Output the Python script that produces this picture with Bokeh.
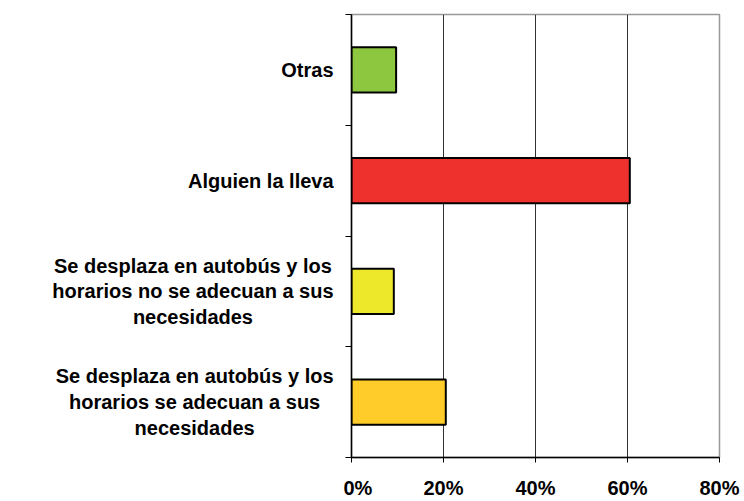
from bokeh.plotting import figure
from bokeh.layouts import row
from bokeh.models import Range1d, FixedTicker, ColumnDataSource
from bokeh.core.properties import value
from bokeh.embed import file_html
from bokeh.resources import INLINE

categories = [
    "Otras",
    "Alguien la lleva",
    "Se desplaza en autobús y los\nhorarios no se adecuan a sus\nnecesidades",
    "Se desplaza en autobús y los\nhorarios se adecuan a sus\nnecesidades",
]
values = [9.7, 60.5, 9.2, 20.5]
colors = ["#8DC63F", "#EE312C", "#EEE82A", "#FFCC29"]
x_ticks = [0, 20, 40, 60, 80]
x_tick_labels = {t: f"{t}%" for t in x_ticks}

n = len(categories)
ypos = [n - i - 0.5 for i in range(n)]
src = ColumnDataSource(dict(cat=categories, val=values, color=colors, y=ypos,
                            zero=[0] * n, lx=[0.971] * n))

H = 501
TOP = 14
BOT = 42
yr = Range1d(0, n)

left = figure(width=343, height=H, x_range=Range1d(0, 1), y_range=yr,
              output_backend="svg", toolbar_location=None,
              x_axis_location=None, y_axis_location=None,
              min_border_left=0, min_border_right=0,
              min_border_top=TOP, min_border_bottom=BOT)
left.outline_line_color = None
left.grid.visible = False
left.text(x="lx", y="y", text="cat", source=src, anchor="center_right",
          text_align="center", text_baseline="middle",
          text_font=value("Liberation Sans"), text_font_style="bold",
          text_font_size="20px", text_line_height=1.17, text_color="#000000")

p = figure(width=401, height=H, x_range=Range1d(0, 80), y_range=yr,
           output_backend="svg", toolbar_location=None,
           min_border_left=8, min_border_right=25,
           min_border_top=TOP, min_border_bottom=BOT)
p.outline_line_color = "#999999"
p.outline_line_width = 1.5
p.ygrid.visible = False
p.xgrid.ticker = FixedTicker(ticks=x_ticks[1:-1])
p.xgrid.grid_line_color = "#333333"
p.xgrid.grid_line_width = 1

p.hbar(y="y", left="zero", right="val", height=0.41, source=src,
       fill_color="color", line_color="#000000", line_width=2)

xa = p.xaxis[0]
xa.ticker = FixedTicker(ticks=x_ticks)
xa.major_label_overrides = x_tick_labels
xa.major_label_text_font = "Liberation Sans"
xa.major_label_text_font_style = "bold"
xa.major_label_text_font_size = "20px"
xa.major_label_text_color = "#000000"
xa.major_label_standoff = 14
xa.major_tick_out = 5
xa.major_tick_in = 0
xa.minor_tick_line_color = None
xa.axis_line_color = "#000000"
xa.axis_line_width = 1.5
xa.major_tick_line_color = "#000000"

ya = p.yaxis[0]
ya.ticker = FixedTicker(ticks=list(range(n + 1)))
ya.major_label_overrides = {i: "" for i in range(n + 1)}
ya.major_label_standoff = 0
ya.major_tick_out = 6
ya.major_tick_in = 0
ya.minor_tick_line_color = None
ya.axis_line_color = "#000000"
ya.axis_line_width = 1.5
ya.major_tick_line_color = "#000000"

layout = row(left, p)
open("out.html", "w").write(file_html(layout, INLINE))
